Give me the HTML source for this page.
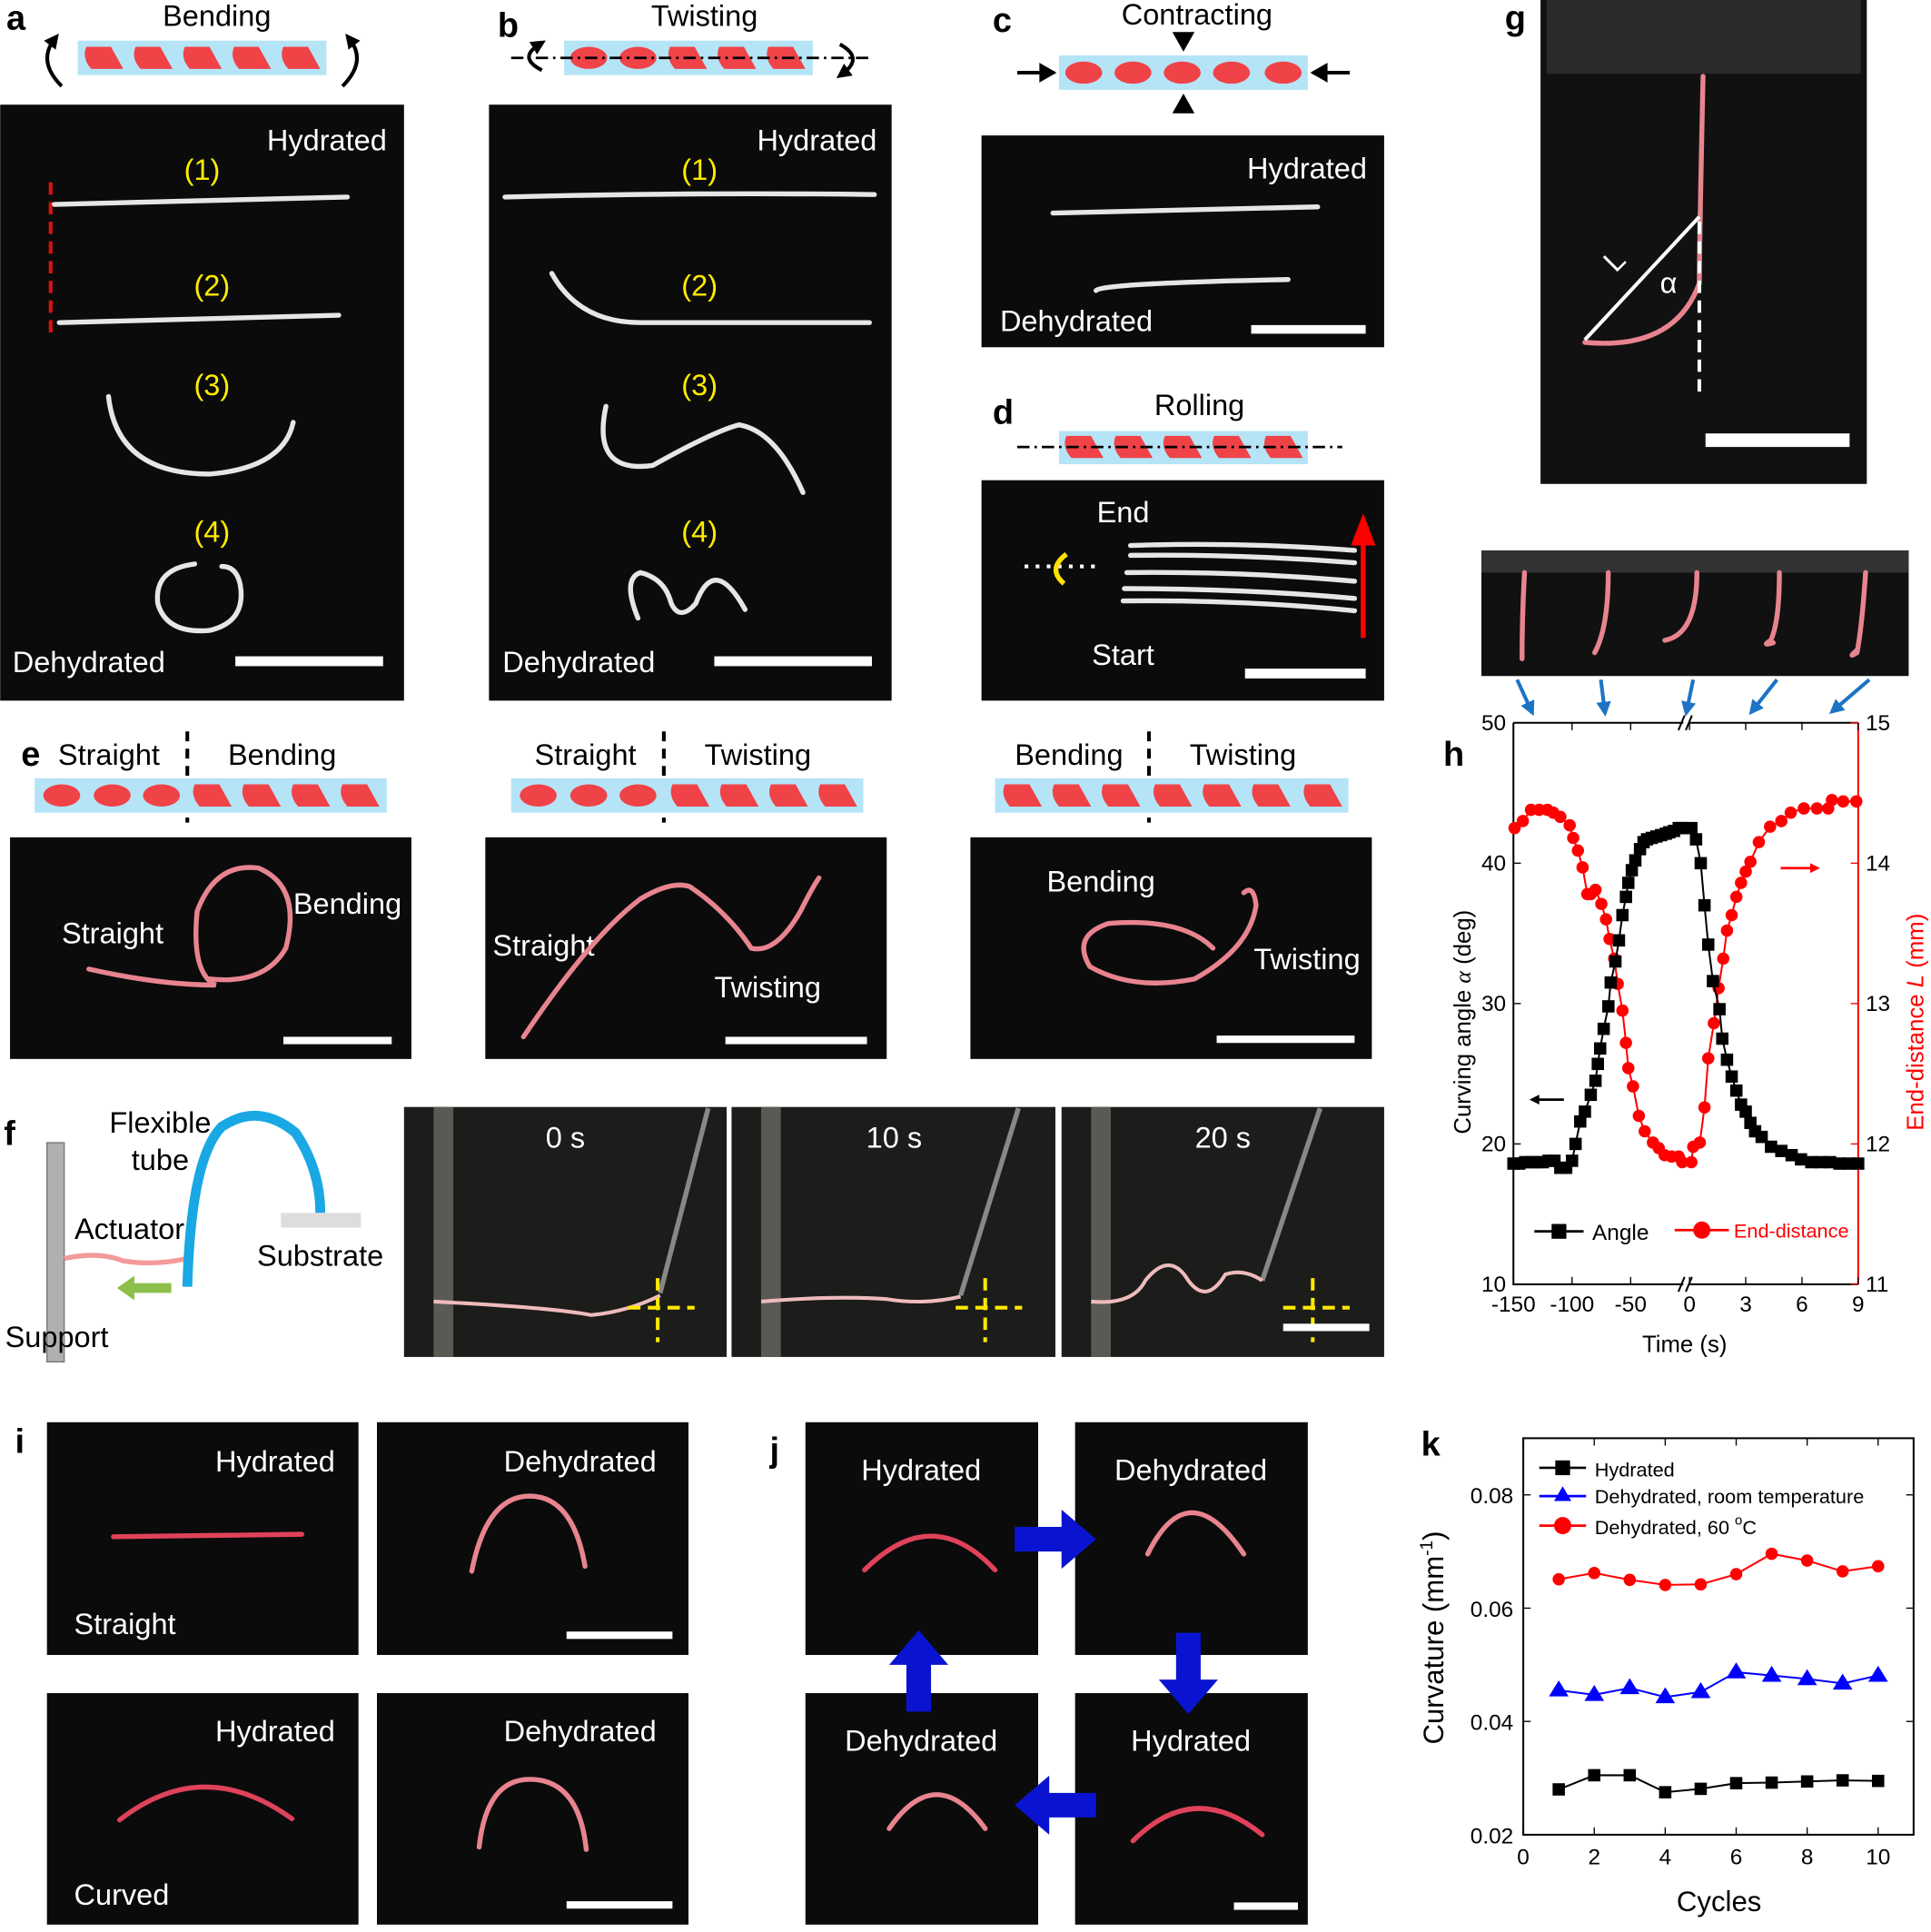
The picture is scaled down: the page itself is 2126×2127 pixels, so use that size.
<!DOCTYPE html>
<html><head><meta charset="utf-8"><style>
html,body{margin:0;padding:0;background:#fff;}
svg{display:block;font-family:"Liberation Sans",sans-serif;}
.ph{fill:#0b0b0b;}
.wt{fill:#fff;font-size:24px;}
.yl{fill:#ffeb00;font-size:24px;}
.bt{fill:#000;font-size:24px;}
.pl{font-weight:bold;font-size:28px;fill:#000;}
.fib{fill:none;stroke:#e6e6e6;stroke-width:4;stroke-linecap:round;}
.pk{fill:none;stroke:#e8848f;stroke-width:4;stroke-linecap:round;}
.rd{fill:none;stroke:#e0425a;stroke-width:4;stroke-linecap:round;}
.tk{font-size:18px;fill:#000;}
</style></head><body>
<svg id="fig" width="2126" height="2127" viewBox="0 0 1568 1569" xmlns="http://www.w3.org/2000/svg">
<defs>
<g id="para"><path d="M-14,-9 L6,-9 L16,9 L-10,9 Q-18,0 -14,-9Z" fill="#f04348"/></g>
<g id="ell"><ellipse cx="0" cy="0" rx="15" ry="9" fill="#f04348"/></g>
<marker id="ah" viewBox="0 0 10 10" refX="5" refY="5" markerWidth="4" markerHeight="4" orient="auto"><path d="M0,0 L10,5 L0,10z" fill="#000"/></marker>
<marker id="ahb" viewBox="0 0 10 10" refX="5" refY="5" markerWidth="4" markerHeight="4" orient="auto"><path d="M0,0 L10,5 L0,10z" fill="#1d73c4"/></marker>
</defs>

<!-- panel a -->
<g>
<text x="5" y="24" class="pl">a</text>
<text x="176" y="21" class="bt" text-anchor="middle">Bending</text>
<rect x="63" y="33" width="202" height="28" fill="#b5e4f7"/>
<use href="#para" x="84" y="47"/><use href="#para" x="124" y="47"/><use href="#para" x="164" y="47"/><use href="#para" x="204" y="47"/><use href="#para" x="244" y="47"/>
<path d="M50,70 Q30,50 44,32" fill="none" stroke="#000" stroke-width="3" marker-end="url(#ah)"/><path d="M278,70 Q298,50 284,32" fill="none" stroke="#000" stroke-width="3" marker-end="url(#ah)"/>
<rect x="0" y="85" width="328" height="484" class="ph"/>
<text x="314" y="122" class="wt" text-anchor="end">Hydrated</text>
<text x="164" y="146" class="yl" text-anchor="middle">(1)</text>
<text x="172" y="240" class="yl" text-anchor="middle">(2)</text>
<text x="172" y="321" class="yl" text-anchor="middle">(3)</text>
<text x="172" y="440" class="yl" text-anchor="middle">(4)</text>
<line x1="41" y1="148" x2="41" y2="276" stroke="#e01010" stroke-width="3" stroke-dasharray="10,6"/>
<path class="fib" d="M44,166 L282,160"/><path class="fib" d="M48,262 L275,256"/>
<path class="fib" d="M88,322 Q95,385 170,385 Q230,380 238,343"/>
<path class="fib" d="M158,458 Q125,462 128,490 Q135,515 170,512 Q200,505 195,475 Q192,460 180,460"/>
<text x="10" y="546" class="wt">Dehydrated</text>
<rect x="191" y="533" width="120" height="8" fill="#fff"/>
</g>

<!-- panel b -->
<g>
<text x="404" y="30" class="pl">b</text>
<text x="572" y="21" class="bt" text-anchor="middle">Twisting</text>
<rect x="458" y="33" width="202" height="28" fill="#b5e4f7"/>
<use href="#ell" x="478" y="47"/><use href="#ell" x="518" y="47"/><use href="#para" x="558" y="47"/><use href="#para" x="598" y="47"/><use href="#para" x="638" y="47"/>
<line x1="415" y1="47" x2="708" y2="47" stroke="#000" stroke-width="2" stroke-dasharray="10,4,2,4"/>
<path d="M440,57 Q420,47 438,36" fill="none" stroke="#000" stroke-width="3" marker-end="url(#ah)"/><path d="M682,36 Q702,47 684,60" fill="none" stroke="#000" stroke-width="3" marker-end="url(#ah)"/>
<rect x="397" y="85" width="327" height="484" class="ph"/>
<text x="712" y="122" class="wt" text-anchor="end">Hydrated</text>
<text x="568" y="146" class="yl" text-anchor="middle">(1)</text>
<text x="568" y="240" class="yl" text-anchor="middle">(2)</text>
<text x="568" y="321" class="yl" text-anchor="middle">(3)</text>
<text x="568" y="440" class="yl" text-anchor="middle">(4)</text>
<path class="fib" d="M410,160 Q560,156 710,158"/>
<path class="fib" d="M448,222 Q470,262 520,262 L706,262"/>
<path class="fib" d="M492,330 Q480,385 530,378 Q580,350 600,345 Q630,350 652,400"/>
<path class="fib" d="M518,502 Q505,470 520,465 Q540,470 545,490 Q552,505 565,490 Q580,450 605,495"/>
<text x="408" y="546" class="wt">Dehydrated</text>
<rect x="580" y="533" width="128" height="8" fill="#fff"/>
</g>

<!-- panel c -->
<g>
<text x="806" y="26" class="pl">c</text>
<text x="972" y="20" class="bt" text-anchor="middle">Contracting</text>
<rect x="860" y="45" width="202" height="28" fill="#b5e4f7"/>
<use href="#ell" x="880" y="59"/><use href="#ell" x="920" y="59"/><use href="#ell" x="960" y="59"/><use href="#ell" x="1000" y="59"/><use href="#ell" x="1042" y="59"/>
<line x1="826" y1="59" x2="856" y2="59" stroke="#000" stroke-width="3"/><path d="M858,59 l-14,-8 v16z"/>
<line x1="1096" y1="59" x2="1066" y2="59" stroke="#000" stroke-width="3"/><path d="M1064,59 l14,-8 v16z"/>
<path d="M961,42 l-9,-16 h18z"/><path d="M961,76 l-9,16 h18z"/>
<rect x="797" y="110" width="327" height="172" class="ph"/>
<text x="1110" y="145" class="wt" text-anchor="end">Hydrated</text>
<path class="fib" d="M855,173 L1070,168"/><path class="fib" d="M890,236 Q895,230 1046,227"/>
<text x="812" y="269" class="wt">Dehydrated</text>
<rect x="1016" y="264" width="93" height="7" fill="#fff"/>
</g>

<!-- panel d -->
<g>
<text x="806" y="344" class="pl">d</text>
<text x="974" y="337" class="bt" text-anchor="middle">Rolling</text>
<rect x="860" y="350" width="202" height="27" fill="#b5e4f7"/>
<use href="#para" x="880" y="363"/><use href="#para" x="920" y="363"/><use href="#para" x="960" y="363"/><use href="#para" x="1000" y="363"/><use href="#para" x="1042" y="363"/>
<line x1="826" y1="363" x2="1090" y2="363" stroke="#000" stroke-width="2" stroke-dasharray="10,4,2,4"/>
<rect x="797" y="390" width="327" height="179" class="ph"/>
<text x="912" y="424" class="wt" text-anchor="middle">End</text>
<text x="912" y="540" class="wt" text-anchor="middle">Start</text>
<path class="fib" d="M918,443 Q1010,440 1100,447" /><path class="fib" d="M918,451 Q1010,450 1100,457"/>
<path class="fib" d="M915,465 Q1010,464 1100,472"/><path class="fib" d="M913,478 Q1010,478 1100,486"/><path class="fib" d="M912,488 Q1010,487 1100,496"/>
<line x1="832" y1="460" x2="890" y2="460" stroke="#fff" stroke-width="3" stroke-dasharray="3,6"/>
<path d="M866,450 Q850,462 864,474" fill="none" stroke="#ffe000" stroke-width="4"/>
<line x1="1107" y1="518" x2="1107" y2="440" stroke="#f00" stroke-width="4"/><path d="M1107,417 l-10,26 h20z" fill="#f00"/>
<rect x="1011" y="543" width="98" height="8" fill="#fff"/>
</g>

<!-- panel g -->
<g>
<text x="1222" y="24" class="pl">g</text>
<rect x="1251" y="0" width="265" height="393" fill="#111"/>
<rect x="1256" y="0" width="255" height="60" fill="#2a2a2a"/>
<path class="pk" d="M1383,62 Q1380,200 1380,230 Q1360,285 1287,278" stroke-width="6"/>
<path d="M1287,276 L1380,176" stroke="#fff" stroke-width="3" fill="none"/>
<line x1="1380" y1="180" x2="1380" y2="320" stroke="#fff" stroke-width="3" stroke-dasharray="10,6"/>
<text x="1355" y="238" class="wt" text-anchor="middle">α</text>
<text x="1312" y="222" class="wt" transform="rotate(-45 1312 222)">L</text>
<rect x="1385" y="352" width="117" height="11" fill="#fff"/>
</g>

<!-- h strip -->
<g>
<rect x="1203" y="447" width="347" height="102" fill="#111"/>
<rect x="1203" y="447" width="347" height="18" fill="#333"/>
<path class="pk" d="M1238,465 Q1236,500 1236,535"/><path class="pk" d="M1306,465 Q1306,510 1295,530"/>
<path class="pk" d="M1378,465 Q1378,515 1352,520"/><path class="pk" d="M1445,465 Q1445,505 1438,520 Q1430,525 1440,522"/><path class="pk" d="M1515,465 Q1512,510 1508,530 Q1500,535 1508,528"/>
<g stroke="#1d73c4" stroke-width="3" fill="none">
<line x1="1232" y1="552" x2="1243" y2="576" marker-end="url(#ahb)"/><line x1="1300" y1="552" x2="1303" y2="576" marker-end="url(#ahb)"/><line x1="1375" y1="552" x2="1370" y2="576" marker-end="url(#ahb)"/><line x1="1443" y1="552" x2="1424" y2="576" marker-end="url(#ahb)"/><line x1="1518" y1="552" x2="1490" y2="576" marker-end="url(#ahb)"/>
</g>
</g>

<!-- chart h -->
<g id="chartH">
<text x="1172" y="622" class="pl">h</text>
<text x="1194" y="830" font-size="19" text-anchor="middle" transform="rotate(-90 1194 830)">Curving angle <tspan font-style="italic" font-family="Liberation Serif">α</tspan> (deg)</text>
<text x="1562" y="830" font-size="19" fill="#f00" text-anchor="middle" transform="rotate(-90 1562 830)">End-distance <tspan font-style="italic">L</tspan> (mm)</text>
<text x="1368" y="1098" font-size="19" text-anchor="middle">Time (s)</text>
<line x1="1244" y1="893" x2="1270" y2="893" stroke="#000" stroke-width="2"/><path d="M1242,893 l8,-4 v8z"/>
<line x1="1446" y1="705" x2="1474" y2="705" stroke="#f00" stroke-width="2"/><path d="M1478,705 l-8,-4 v8z" fill="#f00"/>
<line x1="1246" y1="1000" x2="1286" y2="1000" stroke="#000" stroke-width="2"/><rect x="1260" y="994" width="12" height="12"/>
<text x="1293" y="1007" font-size="18">Angle</text>
<line x1="1360" y1="999" x2="1404" y2="999" stroke="#f00" stroke-width="2"/><circle cx="1382" cy="999" r="7" fill="#f00"/>
<text x="1408" y="1005" font-size="16" fill="#f00">End-distance</text>
</g>

<!-- panel e -->
<g>
<text x="17" y="622" class="pl">e</text>
<text x="47" y="621" class="bt">Straight</text><text x="185" y="621" class="bt">Bending</text>
<line x1="152" y1="594" x2="152" y2="668" stroke="#000" stroke-width="3" stroke-dasharray="8,6"/>
<rect x="28" y="632" width="286" height="28" fill="#b5e4f7"/>
<use href="#ell" x="50" y="646"/><use href="#ell" x="91" y="646"/><use href="#ell" x="131" y="646"/><use href="#para" x="172" y="646"/><use href="#para" x="212" y="646"/><use href="#para" x="252" y="646"/><use href="#para" x="292" y="646"/>
<rect x="8" y="680" width="326" height="180" class="ph"/>
<text x="50" y="766" class="wt">Straight</text><text x="238" y="742" class="wt">Bending</text>
<path class="pk" d="M72,787 Q130,800 175,800 Q155,790 160,740 Q175,700 210,705 Q245,720 232,770 Q215,800 170,795"/>
<rect x="230" y="842" width="88" height="6" fill="#fff"/>

<text x="434" y="621" class="bt">Straight</text><text x="572" y="621" class="bt">Twisting</text>
<line x1="539" y1="594" x2="539" y2="668" stroke="#000" stroke-width="3" stroke-dasharray="8,6"/>
<rect x="415" y="632" width="286" height="28" fill="#b5e4f7"/>
<use href="#ell" x="437" y="646"/><use href="#ell" x="478" y="646"/><use href="#ell" x="518" y="646"/><use href="#para" x="560" y="646"/><use href="#para" x="600" y="646"/><use href="#para" x="640" y="646"/><use href="#para" x="680" y="646"/>
<rect x="394" y="680" width="326" height="180" class="ph"/>
<text x="400" y="776" class="wt">Straight</text><text x="580" y="810" class="wt">Twisting</text>
<path class="pk" d="M425,842 Q480,760 520,730 Q545,715 560,720 Q590,740 610,770 Q630,775 650,740 Q660,720 665,713"/>
<rect x="589" y="842" width="115" height="6" fill="#fff"/>

<text x="824" y="621" class="bt">Bending</text><text x="966" y="621" class="bt">Twisting</text>
<line x1="933" y1="594" x2="933" y2="668" stroke="#000" stroke-width="3" stroke-dasharray="8,6"/>
<rect x="808" y="632" width="287" height="28" fill="#b5e4f7"/>
<use href="#para" x="830" y="646"/><use href="#para" x="870" y="646"/><use href="#para" x="910" y="646"/><use href="#para" x="952" y="646"/><use href="#para" x="992" y="646"/><use href="#para" x="1032" y="646"/><use href="#para" x="1074" y="646"/>
<rect x="788" y="680" width="326" height="180" class="ph"/>
<text x="850" y="724" class="wt">Bending</text><text x="1018" y="787" class="wt">Twisting</text>
<path class="pk" d="M985,770 Q960,745 900,750 Q870,760 885,785 Q920,805 970,795 Q1015,770 1020,735 Q1018,718 1010,725"/>
<rect x="988" y="841" width="112" height="6" fill="#fff"/>
</g>

<!-- panel f -->
<g>
<text x="3" y="930" class="pl">f</text>
<rect x="38" y="928" width="14" height="178" fill="#b0b0b0" stroke="#777"/>
<path d="M52,1022 Q80,1016 100,1024 Q125,1028 152,1022" stroke="#f29a9a" stroke-width="4" fill="none"/>
<path d="M152,1045 Q155,940 180,915 Q210,895 240,920 Q260,950 260,985" stroke="#19a8e3" stroke-width="8" fill="none"/>
<rect x="228" y="985" width="65" height="12" fill="#ddd"/>
<path d="M95,1046 l14,-10 v6 h30 v8 h-30 v6z" fill="#8dc04a"/>
<text x="130" y="920" class="bt" font-size="21" text-anchor="middle">Flexible</text>
<text x="130" y="950" class="bt" font-size="21" text-anchor="middle">tube</text>
<text x="105" y="1006" class="bt" font-size="21" text-anchor="middle">Actuator</text>
<text x="260" y="1028" class="bt" font-size="21" text-anchor="middle">Substrate</text>
<text x="46" y="1094" class="bt" font-size="21" text-anchor="middle">Support</text>
<g>
<rect x="328" y="899" width="262" height="203" fill="#1c1c1a"/>
<rect x="594" y="899" width="263" height="203" fill="#1c1c1a"/>
<rect x="862" y="899" width="262" height="203" fill="#1c1c1a"/>
<rect x="352" y="899" width="16" height="203" fill="#5a5a55"/><rect x="618" y="899" width="16" height="203" fill="#5a5a55"/><rect x="886" y="899" width="16" height="203" fill="#5a5a55"/>
<line x1="575" y1="900" x2="536" y2="1050" stroke="#888" stroke-width="4"/><line x1="827" y1="900" x2="780" y2="1052" stroke="#888" stroke-width="4"/><line x1="1072" y1="900" x2="1025" y2="1040" stroke="#888" stroke-width="4"/>
<path d="M352,1057 Q450,1062 480,1068 Q510,1065 536,1052" stroke="#eebbbb" stroke-width="3" fill="none"/>
<path d="M618,1057 Q680,1052 720,1055 Q750,1060 780,1053" stroke="#eebbbb" stroke-width="3" fill="none"/>
<path d="M886,1057 Q920,1060 930,1040 Q950,1015 965,1040 Q980,1060 995,1035 Q1010,1030 1025,1040" stroke="#eebbbb" stroke-width="3" fill="none"/>
<g stroke="#ffe800" stroke-width="3" stroke-dasharray="10,6"><line x1="510" y1="1062" x2="564" y2="1062"/><line x1="534" y1="1038" x2="534" y2="1090"/><line x1="776" y1="1062" x2="830" y2="1062"/><line x1="800" y1="1038" x2="800" y2="1090"/><line x1="1042" y1="1062" x2="1096" y2="1062"/><line x1="1066" y1="1038" x2="1066" y2="1090"/></g>
<text x="459" y="932" class="wt" text-anchor="middle">0 s</text><text x="726" y="932" class="wt" text-anchor="middle">10 s</text><text x="993" y="932" class="wt" text-anchor="middle">20 s</text>
<rect x="1042" y="1075" width="70" height="6" fill="#fff"/>
</g>
</g>

<!-- panel i -->
<g>
<text x="12" y="1180" class="pl">i</text>
<rect x="38" y="1155" width="253" height="189" class="ph"/><rect x="306" y="1155" width="253" height="189" class="ph"/>
<rect x="38" y="1375" width="253" height="188" class="ph"/><rect x="306" y="1375" width="253" height="188" class="ph"/>
<text x="272" y="1195" class="wt" font-size="29" text-anchor="end">Hydrated</text><text x="533" y="1195" class="wt" font-size="29" text-anchor="end">Dehydrated</text>
<text x="272" y="1414" class="wt" font-size="29" text-anchor="end">Hydrated</text><text x="533" y="1414" class="wt" font-size="29" text-anchor="end">Dehydrated</text>
<text x="60" y="1327" class="wt" font-size="28">Straight</text><text x="60" y="1547" class="wt" font-size="28">Curved</text>
<path class="rd" d="M92,1248 L245,1246"/><path class="pk" d="M383,1276 Q395,1215 430,1215 Q465,1215 475,1272"/>
<path class="rd" d="M97,1478 Q165,1425 237,1477"/><path class="pk" d="M389,1500 Q395,1445 430,1445 Q470,1445 476,1502"/>
<rect x="460" y="1325" width="86" height="6" fill="#fff"/><rect x="460" y="1544" width="86" height="6" fill="#fff"/>
</g>

<!-- panel j -->
<g>
<text x="625" y="1187" class="pl">j</text>
<rect x="654" y="1155" width="189" height="189" class="ph"/><rect x="873" y="1155" width="189" height="189" class="ph"/>
<rect x="654" y="1375" width="189" height="188" class="ph"/><rect x="873" y="1375" width="189" height="188" class="ph"/>
<text x="748" y="1202" class="wt" font-size="29" text-anchor="middle">Hydrated</text><text x="967" y="1202" class="wt" font-size="29" text-anchor="middle">Dehydrated</text>
<text x="748" y="1422" class="wt" font-size="29" text-anchor="middle">Dehydrated</text><text x="967" y="1422" class="wt" font-size="29" text-anchor="middle">Hydrated</text>
<path class="rd" d="M702,1275 Q757,1220 808,1275"/><path class="pk" d="M932,1262 Q965,1195 1010,1262"/>
<path class="pk" d="M722,1485 Q760,1430 800,1485"/><path class="rd" d="M920,1495 Q970,1445 1025,1490"/>
<path d="M824,1240 h38 v-14 l28,24 l-28,24 v-14 h-38z" fill="#0a14d0"/>
<path d="M890,1456 h-38 v-14 l-28,24 l28,24 v-14 h38z" fill="#0a14d0"/>
<path d="M736,1390 v-38 h-14 l24,-28 l24,28 h-14 v38z" fill="#0a14d0"/>
<path d="M955,1326 v38 h-14 l24,28 l24,-28 h-14 v-38z" fill="#0a14d0"/>
<rect x="1002" y="1545" width="52" height="6" fill="#fff"/>
</g>

<!-- chart k -->
<g id="chartK">
<text x="1154" y="1182" class="pl">k</text>
<text x="1172" y="1330" font-size="23" text-anchor="middle" transform="rotate(-90 1172 1330)">Curvature (mm<tspan font-size="14" dy="-9">-1</tspan><tspan dy="9">)</tspan></text>
<text x="1396" y="1552" font-size="23" text-anchor="middle">Cycles</text>
<line x1="1250" y1="1192" x2="1288" y2="1192" stroke="#000" stroke-width="2"/><rect x="1263" y="1186" width="12" height="12"/>
<text x="1295" y="1199" font-size="16">Hydrated</text>
<line x1="1250" y1="1215" x2="1288" y2="1215" stroke="#00f" stroke-width="2"/><path d="M1269,1207 l7,12 h-14z" fill="#00f"/>
<text x="1295" y="1221" font-size="16">Dehydrated, room temperature</text>
<line x1="1250" y1="1239" x2="1288" y2="1239" stroke="#f00" stroke-width="2"/><circle cx="1269" cy="1239" r="7" fill="#f00"/>
<text x="1295" y="1246" font-size="16">Dehydrated, 60 <tspan font-size="11" dy="-8">o</tspan><tspan dy="8">C</tspan></text>
</g>
</svg>
<script>
// ===== chart h data =====
const hAngleLeftT = [-150,-145,-140,-135,-130,-125,-120,-115,-110,-105,-100,-97,-93,-89,-84,-80,-78,-76,-73,-69,-67,-63,-60,-57,-54,-52,-49,-46,-42,-39,-36,-32,-28,-24,-20,-17,-13,-9,-6];
const hAngleLeftV = [18.6,18.6,18.7,18.7,18.7,18.7,18.8,18.8,18.3,18.3,18.8,20,21.6,22.3,23.5,24.5,25.7,26.8,28.2,29.8,31.5,33,34.5,36.3,37.6,38.6,39.5,40.2,41,41.5,41.7,41.8,41.9,42,42.1,42.2,42.3,42.5,42.5];
const hAngleRightT = [0.1,0.35,0.6,0.8,1.0,1.25,1.6,1.75,2.0,2.25,2.5,2.75,3.0,3.25,3.5,3.85,4.35,4.9,5.45,5.95,6.5,7.0,7.5,8.0,8.5,9.0];
const hAngleRightV = [42.5,41.7,40,37,34.2,31.6,29.6,27.5,26,24.8,23.8,22.8,22.3,21.5,20.9,20.5,19.8,19.5,19.2,18.9,18.7,18.7,18.7,18.6,18.6,18.6];
const hDistLeftT = [-149,-142,-135,-128,-121,-116,-110,-102,-99,-95,-91,-87,-84,-80,-75,-71,-68,-64,-61,-57,-54,-52,-48,-43,-38,-31,-26,-21,-15,-9,-6];
const hDistLeftV = [14.25,14.3,14.38,14.38,14.38,14.36,14.33,14.27,14.18,14.09,13.97,13.78,13.78,13.81,13.71,13.6,13.46,13.32,13.14,12.95,12.72,12.54,12.41,12.2,12.09,12.01,11.97,11.92,11.91,11.91,11.87];
const hDistRightT = [0.1,0.2,0.55,0.8,1.0,1.3,1.55,1.8,2.0,2.25,2.5,2.75,3.0,3.25,3.7,4.3,4.9,5.4,6.1,6.8,7.4,7.6,8.2,8.9];
const hDistRightV = [11.87,11.98,12.01,12.26,12.61,12.86,13.11,13.32,13.52,13.63,13.76,13.86,13.94,14.01,14.15,14.26,14.3,14.36,14.39,14.39,14.39,14.45,14.44,14.44];
const hLeftTicks = [-150,-100,-50];
const hRightTicks = [0,3,6,9];
const hYTicks = [10,20,30,40,50];
const hY2Ticks = [11,12,13,14,15];
// ===== chart k data =====
const kCycles = [1,2,3,4,5,6,7,8,9,10];
const kHydrated = [0.0280,0.0305,0.0305,0.0275,0.0281,0.0291,0.0292,0.0294,0.0296,0.0295];
const kDehyRoom = [0.0455,0.0447,0.0459,0.0443,0.0452,0.0487,0.0481,0.0475,0.0467,0.0481];
const kDehy60 = [0.0651,0.0662,0.0650,0.0641,0.0642,0.0660,0.0696,0.0684,0.0665,0.0674];
const kXTicks = [0,2,4,6,8,10];
const kYTicks = [0.02,0.04,0.06,0.08];

const NS = "http://www.w3.org/2000/svg";
function mk(parent, tag, attrs){const e=document.createElementNS(NS,tag);for(const k in attrs)e.setAttribute(k,attrs[k]);parent.appendChild(e);return e;}

const H = {l:1229, r:1509, t:587, b:1043, brk:1367, r0:1372};
function hxL(t){return H.l + (t+150)*0.952;}
function hxR(t){return H.r0 + t*(H.r-H.r0)/9;}
function hy(v){return H.b - (v-10)*(H.b-H.t)/40;}
function hy2(v){return H.b - (v-11)*(H.b-H.t)/4;}
const gh = document.getElementById('chartH');
let ax;
ax = mk(gh,'path',{d:`M${H.l},${H.t} L${H.l},${H.b} L${H.brk},${H.b} M${H.r0},${H.b} L${H.r},${H.b}`,stroke:'#000','stroke-width':1.5,fill:'none'});


mk(gh,'path',{d:`M${H.l},${H.t} L${H.brk},${H.t} M${H.r0},${H.t} L${H.r},${H.t}`,stroke:'#000','stroke-width':1.5,fill:'none'});
mk(gh,'line',{x1:H.r,y1:H.t,x2:H.r,y2:H.b,stroke:'#f00','stroke-width':1.5});
mk(gh,'path',{d:`M${H.brk-4},${H.b+6} L${H.brk+1},${H.b-6} M${H.brk+2},${H.b+6} L${H.brk+7},${H.b-6} M${H.brk-4},${H.t+6} L${H.brk+1},${H.t-6} M${H.brk+2},${H.t+6} L${H.brk+7},${H.t-6}`,stroke:'#000','stroke-width':1.5,fill:'none'});
hYTicks.forEach(v=>{const y=hy(v);mk(gh,'line',{x1:H.l,y1:y,x2:H.l+6,y2:y,stroke:'#000'});const t=mk(gh,'text',{x:H.l-6,y:y+6,'text-anchor':'end',class:'tk'});t.textContent=v;
 
 });
hY2Ticks.forEach(v=>{const y=hy2(v);mk(gh,'line',{x1:H.r,y1:y,x2:H.r-6,y2:y,stroke:'#f00'});const t=mk(gh,'text',{x:H.r+6,y:y+6,class:'tk',fill:'#f00'});t.textContent=v;
 
 });
function hxTick(x,v){mk(gh,'line',{x1:x,y1:H.b,x2:x,y2:H.b-6,stroke:'#000'});mk(gh,'line',{x1:x,y1:H.t,x2:x,y2:H.t+6,stroke:'#000'});const t=mk(gh,'text',{x:x,y:H.b+22,'text-anchor':'middle',class:'tk'});t.textContent=v;
 
 }
hLeftTicks.forEach(v=>hxTick(hxL(v),v));
hRightTicks.forEach(v=>hxTick(hxR(v),v));
function series(g,xs,ys,fx,fy,color,shape,name){
  const pts=xs.map((x,i)=>[fx(x),fy(ys[i])]);
  const pl=mk(g,'polyline',{points:pts.map(p=>p.join(',')).join(' '),fill:'none',stroke:color,'stroke-width':1.5});
  
  
  pts.forEach(p=>{let m;
    if(shape==='sq') m=mk(g,'rect',{x:p[0]-5,y:p[1]-5,width:10,height:10,fill:color});
    else if(shape==='ci') m=mk(g,'circle',{cx:p[0],cy:p[1],r:5,fill:color});
    else m=mk(g,'path',{d:`M${p[0]},${p[1]-8} l8,13 h-16z`,fill:color});
    
    });
}
series(gh,hDistLeftT,hDistLeftV,hxL,hy2,'#f00','ci','h-distance-left');
series(gh,hDistRightT,hDistRightV,hxR,hy2,'#f00','ci','h-distance-right');
series(gh,hAngleLeftT,hAngleLeftV,hxL,hy,'#000','sq','h-angle-left');
series(gh,hAngleRightT,hAngleRightV,hxR,hy,'#000','sq','h-angle-right');

const K={l:1237,r:1554,t:1168,b:1490};
function kx(v){return K.l + v*(K.r-K.l)/11;}
function ky(v){return K.b - (v-0.02)*(K.b-K.t)/0.07;}
const gk=document.getElementById('chartK');
const fr=mk(gk,'rect',{x:K.l,y:K.t,width:K.r-K.l,height:K.b-K.t,fill:'none',stroke:'#000','stroke-width':1.5});


kXTicks.forEach(v=>{const x=kx(v);mk(gk,'line',{x1:x,y1:K.b,x2:x,y2:K.b-6,stroke:'#000'});mk(gk,'line',{x1:x,y1:K.t,x2:x,y2:K.t+6,stroke:'#000'});const t=mk(gk,'text',{x:x,y:K.b+24,'text-anchor':'middle',class:'tk'});t.textContent=v;
 
 });
kYTicks.forEach(v=>{const y=ky(v);mk(gk,'line',{x1:K.l,y1:y,x2:K.l+6,y2:y,stroke:'#000'});mk(gk,'line',{x1:K.r,y1:y,x2:K.r-6,y2:y,stroke:'#000'});const t=mk(gk,'text',{x:K.l-8,y:y+7,'text-anchor':'end',class:'tk','font-size':20});t.textContent=v.toFixed(2);
 
 });
series(gk,kCycles,kHydrated,kx,ky,'#000','sq','k-hydrated');
series(gk,kCycles,kDehyRoom,kx,ky,'#00f','tr','k-dehydrated-room');
series(gk,kCycles,kDehy60,kx,ky,'#f00','ci','k-dehydrated-60c');
</script>
</body></html>
